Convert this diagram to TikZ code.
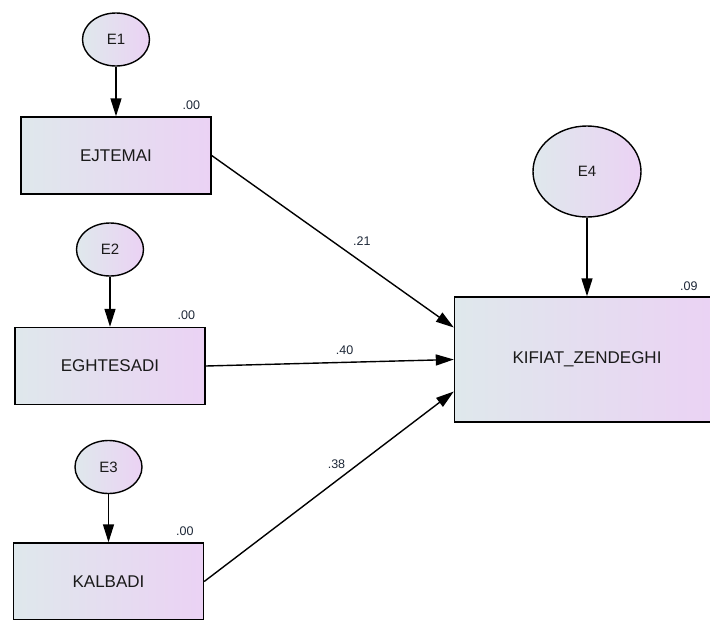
\documentclass[tikz,border=0pt]{standalone}
\usepackage{fontspec}
\setmainfont{Liberation Sans}
\usetikzlibrary{arrows.meta, shapes.geometric, positioning}
\definecolor{AmosCyan}{HTML}{DFE8EC}
\definecolor{AmosLilac}{HTML}{EBD2F4}
\definecolor{AmosText}{HTML}{1A1A1A}
\definecolor{AmosNum}{HTML}{1E2838}

\begin{document}
\begin{tikzpicture}[x=1pt, y=-1pt, on grid, line width=1.4pt, >={Triangle[length=18pt, width=11pt]},
    var/.style={rectangle, draw, left color=AmosCyan, right color=AmosLilac, minimum width=190pt, minimum height=77pt, inner sep=0pt, text=AmosText, font=\fontsize{17}{19}\selectfont},
    err/.style={ellipse, draw, left color=AmosCyan, right color=AmosLilac, minimum width=67pt, minimum height=53pt, inner sep=0pt, text=AmosText, font=\fontsize{15}{17}\selectfont},
    coef/.style={inner sep=0pt, text=AmosNum, font=\fontsize{12.5}{14}\selectfont}]

        \path[use as bounding box, fill=white] (0,0) rectangle (710,619);

        \node[var] (ej) at (116,155.5) {EJTEMAI};
        \node[var] (eg) at (110,366) {EGHTESADI};
        \node[var] (ka) at (108.5,581.5) {KALBADI};
        \node[var, minimum width=265pt, minimum height=125pt] (kz) at (587,359.5) {KIFIAT\_ZENDEGHI};

        \node[err, above=116pt of ej] (e1) {E1};
        \node[err, above=116.5pt of eg] (e2) {E2};
        \node[err, above=114.5pt of ka] (e3) {E3};
        \node[err, minimum width=108pt, minimum height=91pt, above=188pt of kz] (e4) {E4};

        % squared multiple correlations
        \node[coef, anchor=base east] (rej) at ([xshift=-11pt, yshift=7pt]ej.north east) {.00};
        \node[coef, anchor=base east] (reg) at ([xshift=-10pt, yshift=7pt]eg.north east) {.00};
        \node[coef, anchor=base east] (rka) at ([xshift=-10pt, yshift=7pt]ka.north east) {.00};
        \node[coef, anchor=base east] (rkz) at ([xshift=-22pt, yshift=6pt]kz.north east) {.09};

        \path[->]
        (e1) edge (ej)
        (e2) edge (eg)
        (e3) edge (ka)
        (e4) edge (kz)
        (ej.east) edge node[coef, pos=.62, above=16pt] {.21} ([yshift=32pt]kz.west)
        (eg.east) edge node[coef, pos=.56, above=7pt] {.40} (kz.west)
        (ka.east) edge node[coef, pos=.53, above=11pt] {.38} ([yshift=-32pt]kz.west);

    \end{tikzpicture}
\end{document}
